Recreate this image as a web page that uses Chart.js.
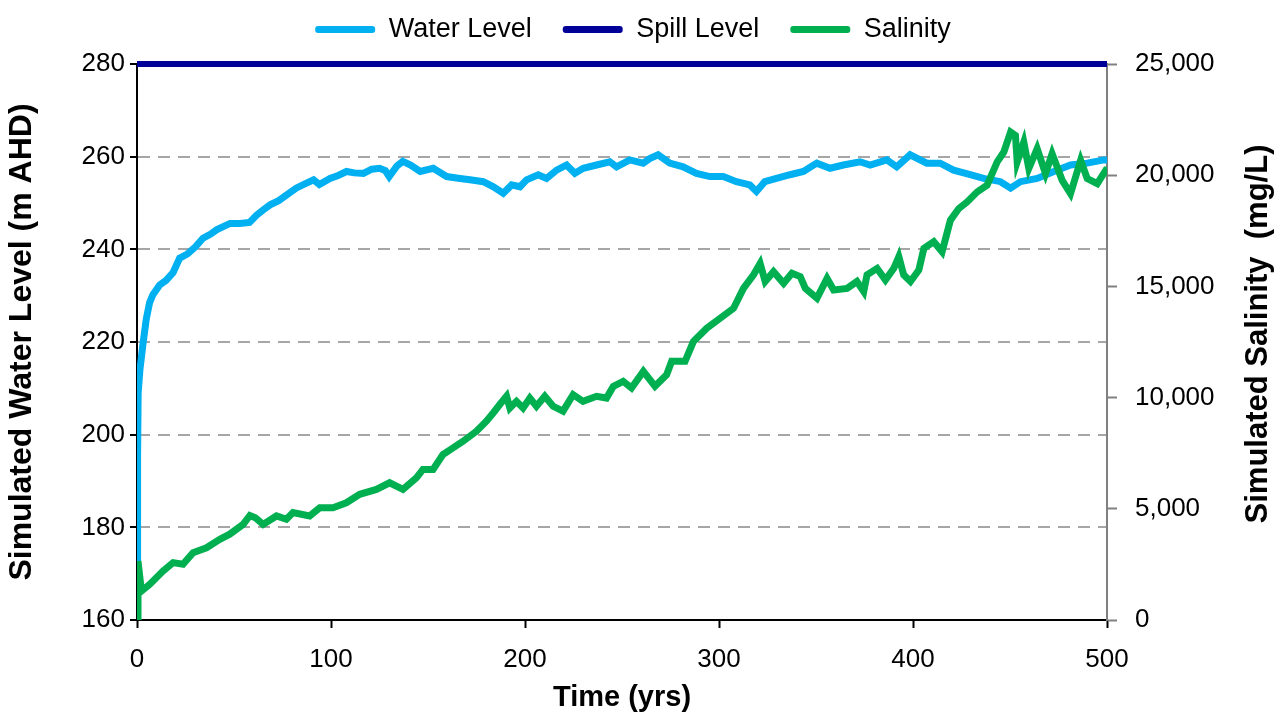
<!DOCTYPE html>
<html>
<head>
<meta charset="utf-8">
<script src="https://cdn.jsdelivr.net/npm/chart.js@4.4.1/dist/chart.umd.min.js"></script>
<style>
    html, body { margin: 0; padding: 0; background: #fff; }
</style>
</head>
<body>
<canvas id="levelChart" width="1281" height="715"></canvas>
<script>
    // water level (m AHD)
    var wlYears = [0, 0.3, 0.6, 1.5, 3.2, 4.8, 6.5, 8.2, 11.7, 15, 18.6, 22, 26, 30, 34, 38, 41, 45, 48, 53,
        58, 61.7, 65, 68.6, 73, 77, 82, 86, 91, 94, 99.5, 104, 108, 112, 116.7, 121, 125, 128, 130, 134,
        137, 141, 146, 152.7, 159.6, 166.5, 171.6, 178.5, 183.7, 188.8, 193.1, 197.4, 200.8, 206.8, 211.1, 216.3, 221.4, 225.7, 230, 236.9,
        243.7, 247.2, 254, 260.9, 264.3, 268.6, 274.6, 281.5, 288.4, 295.3, 302.2, 309, 315.9, 319.3, 323.6, 329.6, 336.6, 343.5, 350.4, 357.2,
        364.1, 372.7, 377.9, 386.5, 391.6, 398.5, 407.1, 414, 420.9, 429.5, 436.4, 445.1, 450.3, 455.4, 464, 472.6, 481.2, 489.8, 498.4, 500];
    var wlValues = [160, 195, 209, 214, 220, 225, 228.5, 230.2, 232.3, 233.3, 235, 238.1, 239, 240.5, 242.4, 243.3, 244.2, 245, 245.6, 245.6,
        245.8, 247.4, 248.5, 249.6, 250.5, 251.7, 253.2, 254, 255, 254, 255.3, 256, 256.8, 256.5, 256.4, 257.3, 257.5, 257, 255.7, 258,
        259, 258.2, 256.8, 257.5, 255.7, 255.3, 255, 254.6, 253.5, 252.1, 253.9, 253.5, 255, 256.1, 255.3, 257.1, 258.2, 256.4, 257.5, 258.2,
        258.9, 257.8, 259.3, 258.6, 259.6, 260.4, 258.6, 257.8, 256.4, 255.7, 255.7, 254.6, 253.9, 252.5, 254.6, 255.3, 256.1, 256.8, 258.6, 257.5,
        258.2, 258.9, 258.2, 259.3, 257.8, 260.4, 258.6, 258.6, 257.1, 256.1, 255.3, 254.6, 253.2, 254.6, 255.3, 256.8, 258.2, 258.6, 259.3, 259.3];

    // salinity (mg/L)
    var salYears = [0, 0.5, 2.3, 6.5, 13.4, 18.6, 23.7, 28.9, 35.8, 42.7, 47.8, 54.7, 58.2, 61, 65, 71.9, 77, 80.4, 89, 94.2,
        101, 107.9, 114.8, 123.4, 130.2, 137.1, 144, 147.4, 152.6, 157.7, 162.9, 168.1, 175, 180.1, 183.6, 187, 190.5, 192.2, 195.6, 199,
        202.5, 205.9, 210.2, 214.5, 219.6, 224.8, 229.9, 236.9, 242, 245.5, 250.6, 254.9, 261, 267, 273, 275.6, 282.5, 286.8, 293.7, 300.6,
        307.5, 312.6, 317.8, 321.2, 323.8, 328.1, 333.3, 337.6, 341.9, 344.5, 350.5, 355.7, 359.1, 366, 371.1, 374.6, 376.3, 381.5, 385.8, 390.1,
        392.7, 395.2, 398.7, 403, 405.6, 410.7, 415, 419.3, 423.6, 427.9, 433.1, 438.2, 443.4, 446.8, 450.3, 452.8, 453.7, 457.1, 459.7, 464,
        468.3, 471.7, 476.9, 481.2, 486.4, 489.8, 495, 499.3, 500];
    var salValues = [0, 2650, 1300, 1600, 2200, 2580, 2510, 3030, 3250, 3630, 3860, 4300, 4700, 4600, 4300, 4680, 4530, 4830, 4680, 5050,
        5050, 5270, 5650, 5870, 6170, 5870, 6390, 6770, 6770, 7440, 7740, 8040, 8490, 8940, 9310, 9690, 10060, 9530, 9830, 9530,
        9980, 9610, 10060, 9610, 9390, 10130, 9830, 10060, 9980, 10500, 10730, 10430, 11180, 10510, 11030, 11630, 11630, 12520, 13120, 13570,
        14020, 14910, 15520, 16030, 15220, 15660, 15140, 15590, 15440, 14910, 14470, 15360, 14840, 14910, 15220, 14770, 15520, 15810, 15290, 15810,
        16340, 15520, 15220, 15740, 16710, 17010, 16560, 17980, 18500, 18800, 19250, 19550, 20600, 21040, 21940, 21790, 20600, 21490, 20300, 21190,
        20070, 20970, 19770, 19170, 20670, 19850, 19620, 20220, 20200];

    // spill level (m AHD)
    var spillYears = [0, 500];
    var spillValues = [280, 280];

    var xTicks = [0, 100, 200, 300, 400, 500];
    var levelTicks = [160, 180, 200, 220, 240, 260, 280];
    var salTicks = [0, 5000, 10000, 15000, 20000, 25000];

    function toPoints(xs, ys) {
        return xs.map(function (x, i) { return { x: x, y: ys[i] }; });
    }
    function useTicks(list) {
        return function (scale) {
            scale.ticks = list.map(function (v) { return { value: v }; });
        };
    }

    var fontFamily = '"Liberation Sans", Arial, sans-serif';
    Chart.defaults.font.family = fontFamily;
    Chart.defaults.color = '#000';

    // legend band is taller than chart.js makes it, so stretch it
    var legendBand = {
        id: 'legendBand',
        afterInit: function (chart) {
            var lg = chart.legend;
            var fit = lg.fit;
            lg.fit = function () {
                fit.call(this);
                this.height = 64;
            };
        }
    };

    // right-hand title reads bottom to top, like the left one
    var rightTitle = {
        id: 'rightTitle',
        afterDraw: function (chart) {
            var ctx = chart.ctx;
            var area = chart.chartArea;
            ctx.save();
            ctx.translate(chart.width - 23, (area.top + area.bottom) / 2 - 8);
            ctx.rotate(-Math.PI / 2);
            ctx.font = 'bold 31px ' + fontFamily;
            ctx.fillStyle = '#000';
            ctx.textAlign = 'center';
            ctx.textBaseline = 'middle';
            ctx.fillText('Simulated Salinity  (mg/L)', 0, 0);
            ctx.restore();
        }
    };

    var ctx = document.getElementById('levelChart').getContext('2d');
    var levelChart = new Chart(ctx, {
        type: 'scatter',
        data: {
            datasets: [{
                label: 'Water Level',
                data: toPoints(wlYears, wlValues),
                showLine: true,
                borderColor: '#00b0f0',
                backgroundColor: '#00b0f0',
                borderWidth: 7,
                pointRadius: 0,
                yAxisID: 'y',
                order: 1
            }, {
                label: 'Spill Level',
                data: toPoints(spillYears, spillValues),
                showLine: true,
                borderColor: '#000099',
                backgroundColor: '#000099',
                borderWidth: 6,
                pointRadius: 0,
                yAxisID: 'y',
                clip: false,
                order: 2
            }, {
                label: 'Salinity',
                data: toPoints(salYears, salValues),
                showLine: true,
                borderColor: '#00b050',
                backgroundColor: '#00b050',
                borderWidth: 7,
                pointRadius: 0,
                yAxisID: 'y1',
                order: 0
            }]
        },
        options: {
            responsive: false,
            animation: false,
            devicePixelRatio: 1,
            layout: { padding: 0 },
            plugins: {
                tooltip: { enabled: false },
                legend: {
                    position: 'top',
                    labels: {
                        boxWidth: 60,
                        boxHeight: 7,
                        padding: 16,
                        useBorderRadius: true,
                        borderRadius: 3,
                        font: { size: 27 },
                        color: '#000',
                        sort: function (a, b) { return a.datasetIndex - b.datasetIndex; },
                        generateLabels: function (chart) {
                            var items = Chart.defaults.plugins.legend.labels.generateLabels(chart);
                            items.forEach(function (it) {
                                it.fillStyle = it.strokeStyle;
                                it.lineWidth = 0;
                                it.text = it.text + '  ';
                            });
                            return items;
                        }
                    }
                }
            },
            scales: {
                x: {
                    type: 'linear',
                    min: 0,
                    max: 500,
                    afterBuildTicks: useTicks(xTicks),
                    afterFit: function (scale) { scale.height = 95; },
                    grid: { drawOnChartArea: false, tickLength: 8, tickColor: '#000', tickWidth: 2 },
                    border: { color: '#000', width: 2 },
                    ticks: { font: { size: 26 }, padding: 16, maxRotation: 0 },
                    title: {
                        display: true,
                        text: 'Time (yrs)',
                        font: { size: 29, weight: 'bold' },
                        padding: { top: 0, bottom: 0 }
                    }
                },
                y: {
                    type: 'linear',
                    position: 'left',
                    min: 160,
                    max: 280,
                    afterBuildTicks: useTicks(levelTicks),
                    afterFit: function (scale) { scale.width = 137; },
                    grid: {
                        color: function (c) {
                            var v = c.tick ? c.tick.value : null;
                            return (v === 160 || v === 280) ? 'rgba(0,0,0,0)' : '#a6a6a6';
                        },
                        lineWidth: 2,
                        tickLength: 7,
                        tickColor: '#000',
                        tickWidth: 2
                    },
                    border: { color: '#000', width: 2, dash: [12, 8] },
                    ticks: { font: { size: 26 }, padding: 5 },
                    title: {
                        display: true,
                        text: 'Simulated Water Level (m AHD)',
                        font: { size: 32, weight: 'bold' },
                        padding: { top: 3, bottom: 0 }
                    }
                },
                y1: {
                    type: 'linear',
                    position: 'right',
                    min: 0,
                    max: 25000,
                    afterBuildTicks: useTicks(salTicks),
                    afterFit: function (scale) { scale.width = 174; },
                    grid: { drawOnChartArea: false, tickLength: 10, tickColor: '#808080', tickWidth: 2 },
                    border: { color: '#808080', width: 2 },
                    ticks: {
                        font: { size: 26 },
                        padding: 18,
                        callback: function (v) { return v.toLocaleString('en-US'); }
                    }
                }
            }
        },
        plugins: [legendBand, rightTitle]
    });
</script>
</body>
</html>
